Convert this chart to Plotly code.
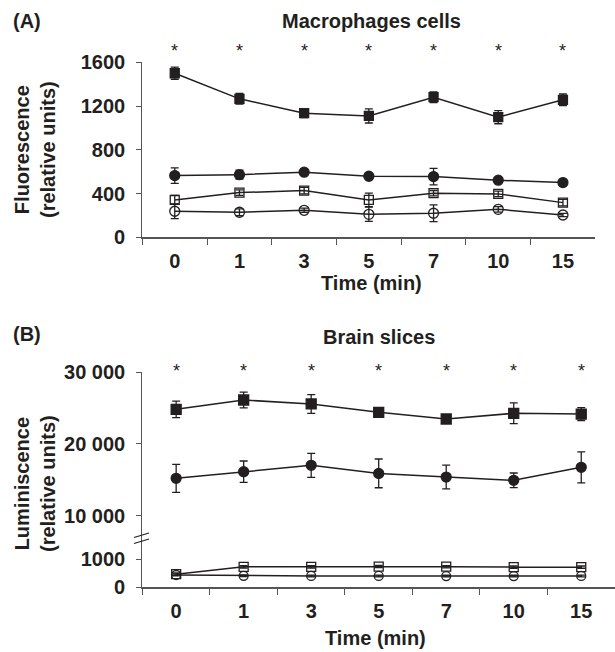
import plotly.graph_objects as go

# ---------------- data ----------------
times = ["0", "1", "3", "5", "7", "10", "15"]

# Panel A: Macrophages cells (fluorescence)
a_sq_filled = [1500, 1266, 1135, 1110, 1281, 1098, 1257]
a_sq_filled_err = [55, 49, 40, 65, 49, 60, 53]
a_ci_filled = [564, 573, 595, 558, 555, 522, 500]
a_ci_filled_err = [71, 40, 25, 15, 76, 15, 15]
a_sq_open = [342, 409, 427, 342, 403, 397, 317]
a_sq_open_err = [40, 25, 30, 61, 25, 25, 30]
a_ci_open = [238, 229, 247, 210, 220, 256, 204]
a_ci_open_err = [68, 30, 20, 65, 76, 25, 15]

# Panel B: Brain slices (luminiscence)
b_sq_filled = [24800, 26100, 25550, 24390, 23460, 24250, 24150]
b_sq_filled_err = [1140, 1100, 1300, 300, 200, 1440, 900]
b_ci_filled = [15200, 16130, 17010, 15890, 15380, 14920, 16730]
b_ci_filled_err = [1950, 1480, 1670, 2000, 1650, 1020, 2160]
b_sq_open = [470, 730, 730, 740, 735, 720, 720]
b_sq_open_err = [40, 40, 40, 40, 40, 40, 40]
b_ci_open = [440, 410, 405, 405, 400, 400, 405]
b_ci_open_err = [30, 30, 30, 30, 30, 30, 30]

a_yticks = [0, 400, 800, 1200, 1600]
b_upper_ticks = [10000, 20000, 30000]
b_upper_labels = ["10 000", "20 000", "30 000"]
b_lower_ticks = [0, 1000]
b_lower_labels = ["0", "1000"]

# ---------------- layout helpers ----------------
W, H = 615, 652
def px(x):
    return x / W
def py(y):
    return 1 - y / H

ink = "#231f20"
axc = "#555555"
FONT = "Liberation Sans, Arial, Helvetica, sans-serif"

fig = go.Figure()

def add(y, err, symbol, size, xa, ya):
    fig.add_trace(go.Scatter(
        x=times, y=y, mode="lines+markers", xaxis=xa, yaxis=ya,
        line=dict(color=ink, width=1.5),
        marker=dict(symbol=symbol, size=size, color=ink,
                    line=dict(color=ink, width=1.3)),
        error_y=dict(type="data", array=err, visible=True, color=ink,
                     thickness=1.3, width=4),
        showlegend=False, cliponaxis=False))

# Panel A
add(a_sq_filled, a_sq_filled_err, "square", 9, "x", "y")
add(a_ci_filled, a_ci_filled_err, "circle", 10, "x", "y")
add(a_sq_open, a_sq_open_err, "square-open", 9, "x", "y")
add(a_ci_open, a_ci_open_err, "circle-open", 10, "x", "y")
# Panel B
add(b_sq_filled, b_sq_filled_err, "square", 10, "x2", "y2")
add(b_ci_filled, b_ci_filled_err, "circle", 10, "x2", "y2")
add(b_sq_open, b_sq_open_err, "square-open", 9, "x2", "y3")
add(b_ci_open, b_ci_open_err, "circle-open", 9, "x2", "y3")

tickfont = dict(family=FONT, size=20, color=ink, weight="bold")
common_x = dict(type="category", range=[-0.5, 6.5], showline=True, linecolor=axc,
                linewidth=1.2, ticks="outside", tickson="boundaries", ticklen=6,
                tickcolor=axc, tickwidth=1, tickfont=tickfont, showgrid=False,
                zeroline=False, ticklabelstandoff=5, automargin=False)
common_y = dict(showline=True, linecolor=axc, linewidth=1.2, ticks="outside",
                ticklen=5, tickcolor=axc, tickwidth=1, tickfont=tickfont,
                showgrid=False, zeroline=False, ticklabelstandoff=7,
                automargin=False)

fig.update_layout(
    width=W, height=H, autosize=False,
    margin=dict(l=0, r=0, t=0, b=0, pad=0),
    paper_bgcolor="white", plot_bgcolor="white",
    xaxis=dict(domain=[px(142.4), px(595.3)], anchor="y", **common_x),
    yaxis=dict(domain=[py(237.3), py(62.3)], anchor="x", range=[0, 1600],
               tickvals=a_yticks, **common_y),
    xaxis2=dict(domain=[px(142.4), 1.0], anchor="y3", **common_x),
    yaxis2=dict(domain=[py(538), py(372)], anchor="x2", range=[6896, 30000],
                tickvals=b_upper_ticks, ticktext=b_upper_labels, **common_y),
    yaxis3=dict(domain=[py(587.3), py(538)], anchor="x2", range=[0, 1761],
                tickvals=b_lower_ticks, ticktext=b_lower_labels, **common_y),
)

def text(x, y, s, size=20, angle=0, bold=True):
    fig.add_annotation(x=px(x), y=py(y), xref="paper", yref="paper", text=s,
                       showarrow=False, xanchor="center", yanchor="middle",
                       textangle=angle,
                       font=dict(family=FONT, size=size, color=ink,
                                 weight="bold" if bold else "normal"))

text(27, 21, "(A)")
text(371, 21, "Macrophages cells")
text(371.7, 283, "Time (min)")
text(35, 150, "Fluorescence<br>(relative units)", angle=-90)

text(27, 334, "(B)")
text(378.6, 337, "Brain slices")
text(375.5, 638, "Time (min)")
text(35, 484, "Luminiscence<br>(relative units)", angle=-90)

# significance stars (category index positions)
for i, t in enumerate(times):
    fig.add_annotation(x=i, xref="x", y=py(51), yref="paper", text="*",
                       showarrow=False, yanchor="middle",
                       font=dict(family=FONT, size=18, color=ink))
    fig.add_annotation(x=i, xref="x2", y=py(371), yref="paper", text="*",
                       showarrow=False, yanchor="middle",
                       font=dict(family=FONT, size=18, color=ink))

# axis break marks
for (x0, y0, x1, y1) in [(134, 537.5, 149, 533), (134, 543.5, 149, 539)]:
    fig.add_shape(type="line", xref="paper", yref="paper",
                  x0=px(x0), y0=py(y0), x1=px(x1), y1=py(y1),
                  line=dict(color=ink, width=1.3))

fig.write_html("out.html",
               config={"displayModeBar": False, "staticPlot": True},
               post_script="document.body.style.margin='0';"
                           "document.body.style.overflow='hidden';")
